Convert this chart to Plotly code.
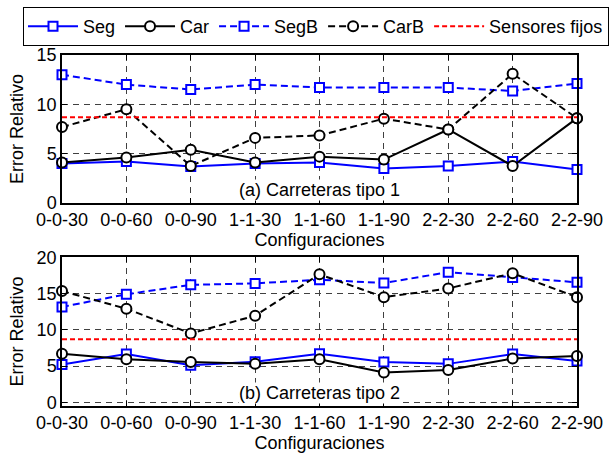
import plotly.graph_objects as go

categories = ["0-0-30", "0-0-60", "0-0-90", "1-1-30", "1-1-60", "1-1-90", "2-2-30", "2-2-60", "2-2-90"]

# (a) Carreteras tipo 1
seg_a = [4.0, 4.2, 3.7, 4.0, 4.1, 3.5, 3.75, 4.2, 3.4]
car_a = [4.1, 4.6, 5.4, 4.1, 4.7, 4.4, 7.45, 3.75, 8.6]
segb_a = [13.0, 12.0, 11.5, 12.0, 11.7, 11.7, 11.7, 11.35, 12.1]
carb_a = [7.7, 9.5, 3.75, 6.6, 6.85, 8.55, 7.45, 13.1, 8.6]

# (b) Carreteras tipo 2
seg_b = [5.2, 6.65, 5.1, 5.6, 6.7, 5.55, 5.3, 6.65, 5.7]
car_b = [6.7, 5.95, 5.55, 5.3, 5.95, 4.1, 4.45, 6.05, 6.4]
segb_b = [13.15, 14.9, 16.2, 16.4, 16.9, 16.45, 17.95, 17.2, 16.55]
carb_b = [15.35, 12.9, 9.5, 11.95, 17.65, 14.5, 15.7, 17.8, 14.5]

sensores_fijos = 8.7

yticks_a = [0, 5, 10, 15]
yticks_b = [0, 5, 10, 15, 20]

FONT = "Liberation Sans, Arial, sans-serif"
BLUE = "#0000FF"
BLACK = "#000000"
RED = "#FF0000"

fig = go.Figure()

def add_series(xa, ya, seg, car, segb, carb, show):
    specs = [
        ("Seg", seg, BLUE, "solid", "square"),
        ("Car", car, BLACK, "solid", "circle"),
        ("SegB", segb, BLUE, "dash", "square"),
        ("CarB", carb, BLACK, "dash", "circle"),
    ]
    for name, vals, col, dash, sym in specs:
        fig.add_trace(go.Scatter(
            x=categories, y=vals, name=name, mode="lines+markers",
            xaxis=xa, yaxis=ya, showlegend=show, legendgroup=name,
            cliponaxis=False,
            line=dict(color=col, width=2, dash="7px,4px" if dash == "dash" else "solid"),
            marker=dict(symbol=sym, size=10 if sym == "circle" else 9, color="white",
                        line=dict(color=col, width=2)),
        ))
    fig.add_trace(go.Scatter(
        x=[categories[0], categories[-1]], y=[sensores_fijos, sensores_fijos],
        name="Sensores fijos", mode="lines", xaxis=xa, yaxis=ya,
        showlegend=show, legendgroup="sf",
        line=dict(color=RED, width=2, dash="5px,3px"),
    ))

add_series("x", "y", seg_a, car_a, segb_a, carb_a, True)
add_series("x2", "y2", seg_b, car_b, segb_b, carb_b, False)

axis_common = dict(
    showline=True, linecolor="black", linewidth=1.5, mirror="ticks",
    ticks="inside", ticklen=5, tickcolor="black", tickwidth=1,
    showgrid=True, gridcolor="#404040", gridwidth=1, griddash="6px,5px",
    zeroline=False, tickfont=dict(family=FONT, size=18, color="black"),
)

W, H = 613, 453
XDOM = [62 / W, 577 / W]
YDOM_A = [1 - 203 / H, 1 - 55 / H]
YDOM_B = [1 - 405.7 / H, 1 - 257.3 / H]

xcommon = dict(axis_common, type="category", range=[0, 8], domain=XDOM,
               title=dict(text="Configuraciones", font=dict(family=FONT, size=18, color="black"), standoff=4))
ytitle = dict(text="Error Relativo", font=dict(family=FONT, size=18, color="black"), standoff=8)

fig.update_layout(
    width=W, height=H,
    margin=dict(l=0, r=0, t=0, b=0, autoexpand=False),
    paper_bgcolor="white", plot_bgcolor="white",
    font=dict(family=FONT, size=18, color="black"),
    xaxis=dict(xcommon, anchor="y"),
    xaxis2=dict(xcommon, anchor="y2"),
    yaxis=dict(axis_common, anchor="x", domain=YDOM_A, range=[0, 15],
               tickvals=yticks_a, title=ytitle),
    yaxis2=dict(axis_common, anchor="x2", domain=YDOM_B, range=[-0.47, 20],
                tickvals=yticks_b, title=ytitle),
    legend=dict(
        orientation="h", xref="paper", yref="paper",
        x=23 / W, y=1 - 7 / H, xanchor="left", yanchor="top",
        bordercolor="black", borderwidth=1, bgcolor="white",
        font=dict(family=FONT, size=18, color="black"),
        itemwidth=50,
    ),
    annotations=[
        dict(text="(a) Carreteras tipo 1", xref="x domain", yref="y domain",
             x=0.5, y=0.088, xanchor="center", yanchor="middle", showarrow=False,
             bgcolor="white", borderpad=0, font=dict(family=FONT, size=18, color="black")),
        dict(text="(b) Carreteras tipo 2", xref="x2 domain", yref="y2 domain",
             x=0.5, y=0.086, xanchor="center", yanchor="middle", showarrow=False,
             bgcolor="white", borderpad=0, font=dict(family=FONT, size=18, color="black")),
    ],
)

fig.write_html("out.html", config={"displayModeBar": False},
               post_script="document.body.style.margin='0px';")
